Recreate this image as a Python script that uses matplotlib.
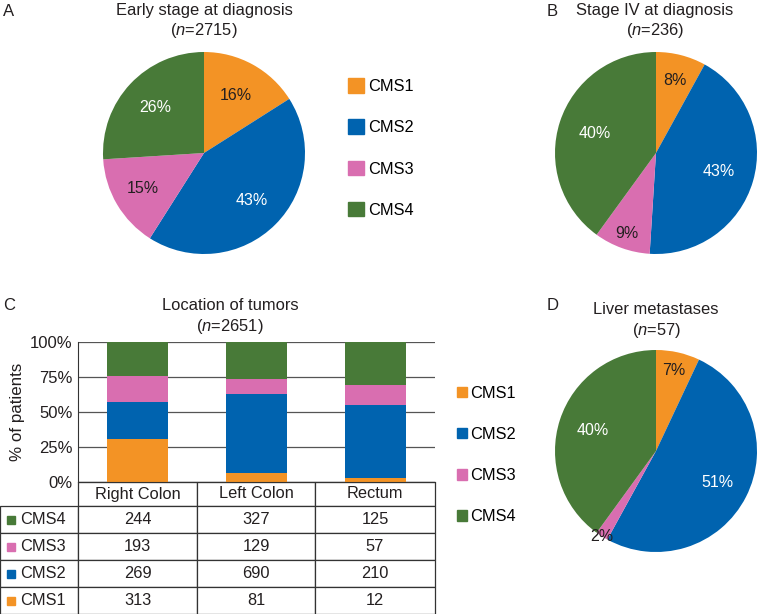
import numpy as np
import matplotlib
matplotlib.use('Agg')
import matplotlib.pyplot as plt
from matplotlib.patches import Patch

W, H = 757, 614

CMS = ['CMS1', 'CMS2', 'CMS3', 'CMS4']
COLORS = ['#F39325', '#0063AF', '#D96EB0', '#487A38']

# pie shares (%)
early_pct = [16, 43, 15, 26]
stage4_pct = [8, 43, 9, 40]
liver_pct = [7, 51, 2, 40]

# counts by tumour location
locations = ['Right Colon', 'Left Colon', 'Rectum']
cms1_n = [313, 81, 12]
cms2_n = [269, 690, 210]
cms3_n = [193, 129, 57]
cms4_n = [244, 327, 125]

plt.rcParams['font.family'] = ['Liberation Sans', 'DejaVu Sans']
plt.rcParams['mathtext.fontset'] = 'custom'
plt.rcParams['mathtext.it'] = 'Liberation Sans:italic'
plt.rcParams['mathtext.rm'] = 'Liberation Sans'

DARK = '#231F20'
fig = plt.figure(figsize=(W / 100, H / 100), dpi=100)


def fx(px):
    return px / W


def fy(py):
    return 1 - py / H


def draw_pie(cx, cy, r, vals, dists):
    ax = fig.add_axes([fx(cx - 1.05 * r), fy(cy + 1.05 * r), 2.1 * r / W, 2.1 * r / H])
    wedges, _ = ax.pie(vals, colors=COLORS, startangle=90, counterclock=False,
                       radius=1, wedgeprops=dict(linewidth=0))
    for i, (w, v, d) in enumerate(zip(wedges, vals, dists)):
        ang = np.deg2rad((w.theta1 + w.theta2) / 2)
        ax.text(d * np.cos(ang), d * np.sin(ang), f'{v}%', ha='center', va='center',
                fontsize=11.5, color=DARK if i % 2 == 0 else 'white')
    ax.set_xlim(-1.05, 1.05)
    ax.set_ylim(-1.05, 1.05)
    return ax


def title(cx, y1, y2, t, n):
    fig.text(fx(cx), fy(y1), t, ha='center', va='center', fontsize=11.9, color=DARK)
    fig.text(fx(cx), fy(y2), f'($n$={n})', ha='center', va='center', fontsize=11.9, color=DARK)


# panel A
draw_pie(204, 153, 101, early_pct, [0.65, 0.67, 0.70, 0.66])
title(204, 11, 31, 'Early stage at diagnosis', 2715)
fig.text(fx(3), fy(11), 'A', ha='left', va='center', fontsize=12, color=DARK)

# panel B
draw_pie(656, 153, 101, stage4_pct, [0.74, 0.65, 0.85, 0.64])
title(655, 11, 31, 'Stage IV at diagnosis', 236)
fig.text(fx(547), fy(11), 'B', ha='left', va='center', fontsize=12, color=DARK)

# panel D
draw_pie(656, 451, 101, liver_pct, [0.82, 0.68, 1.0, 0.66])
title(656, 309, 331, 'Liver metastases', 57)
fig.text(fx(547), fy(305), 'D', ha='left', va='center', fontsize=12, color=DARK)

handles = [Patch(color=c, label=l) for c, l in zip(COLORS, CMS)]
fig.legend(handles=handles, loc='center left', bbox_to_anchor=(fx(348), fy(148)),
           frameon=False, fontsize=11.8, handlelength=0.98, handleheight=0.98,
           handletextpad=0.25, labelspacing=1.55, borderpad=0, borderaxespad=0)
fig.legend(handles=handles, loc='center left', bbox_to_anchor=(fx(457), fy(455)),
           frameon=False, fontsize=11.8, handlelength=0.62, handleheight=0.62,
           handletextpad=0.2, labelspacing=1.6, borderpad=0, borderaxespad=0)

# panel C
ax = fig.add_axes([fx(78), fy(482), 357 / W, 140 / H])
counts = np.array([cms1_n, cms2_n, cms3_n, cms4_n], dtype=float)
pct = counts / counts.sum(axis=0) * 100
x = np.arange(len(locations))
bottom = np.zeros(len(locations))
for row, c in zip(pct, COLORS):
    ax.bar(x, row, bottom=bottom, width=0.51, color=c, linewidth=0)
    bottom += row
ax.set_xlim(-0.5, 2.5)
ax.set_ylim(0, 100)
ax.set_yticks([0, 25, 50, 75, 100])
ax.set_yticklabels(['0%', '25%', '50%', '75%', '100%'], fontsize=12, color=DARK)
ax.tick_params(axis='y', length=0, pad=4)
ax.set_xticks([])
ax.yaxis.grid(True, color='#555555', linewidth=0.9)
ax.set_axisbelow(True)
for s in ['top', 'right']:
    ax.spines[s].set_visible(False)
ax.spines['left'].set_color('#333333')
ax.spines['bottom'].set_color('#333333')
ax.set_ylabel('% of patients', fontsize=12.2, color=DARK)
ax.yaxis.set_label_coords((25 - 78) / 357, 0.5)
title(230, 306, 326, 'Location of tumors', 2651)
fig.text(fx(3), fy(305), 'C', ha='left', va='center', fontsize=12, color=DARK)

# table under the bars, CMS4 on top
order = [3, 2, 1, 0]
cell_text = [[CMS[i]] + [str(int(v)) for v in counts[i]] for i in order]
widths = np.array([78, 119, 118, 120], dtype=float)
tbl = ax.table(cellText=cell_text, colLabels=[''] + locations,
               colWidths=list(widths / widths.sum()), cellLoc='center',
               bbox=[-78 / 357, -132 / 140, 435 / 357, 132 / 140])
tbl.auto_set_font_size(False)
tbl.set_fontsize(11.8)
for (r, c), cell in tbl.get_celld().items():
    cell.set_edgecolor('#333333')
    cell.set_linewidth(0.9)
    cell.get_text().set_color(DARK)
    if r == 0:
        cell.set_height(cell.get_height() * 24 / 27)
    if r == 0 and c == 0:
        cell.visible_edges = ''
    if r > 0 and c == 0:
        cell._loc = 'left'
        cell.PAD = 0.26
        cell.get_text().set_ha('left')

fig.canvas.draw()
cells = tbl.get_celld()
for k, i in enumerate(order):
    cell = cells[(k + 1, 0)]
    ax.plot([cell.get_x() + cell.get_width() * 0.14], [cell.get_y() + cell.get_height() / 2],
            marker='s', markersize=6, color=COLORS[i], transform=ax.transAxes,
            clip_on=False, linestyle='none')

fig.savefig('out.png', dpi=100)
